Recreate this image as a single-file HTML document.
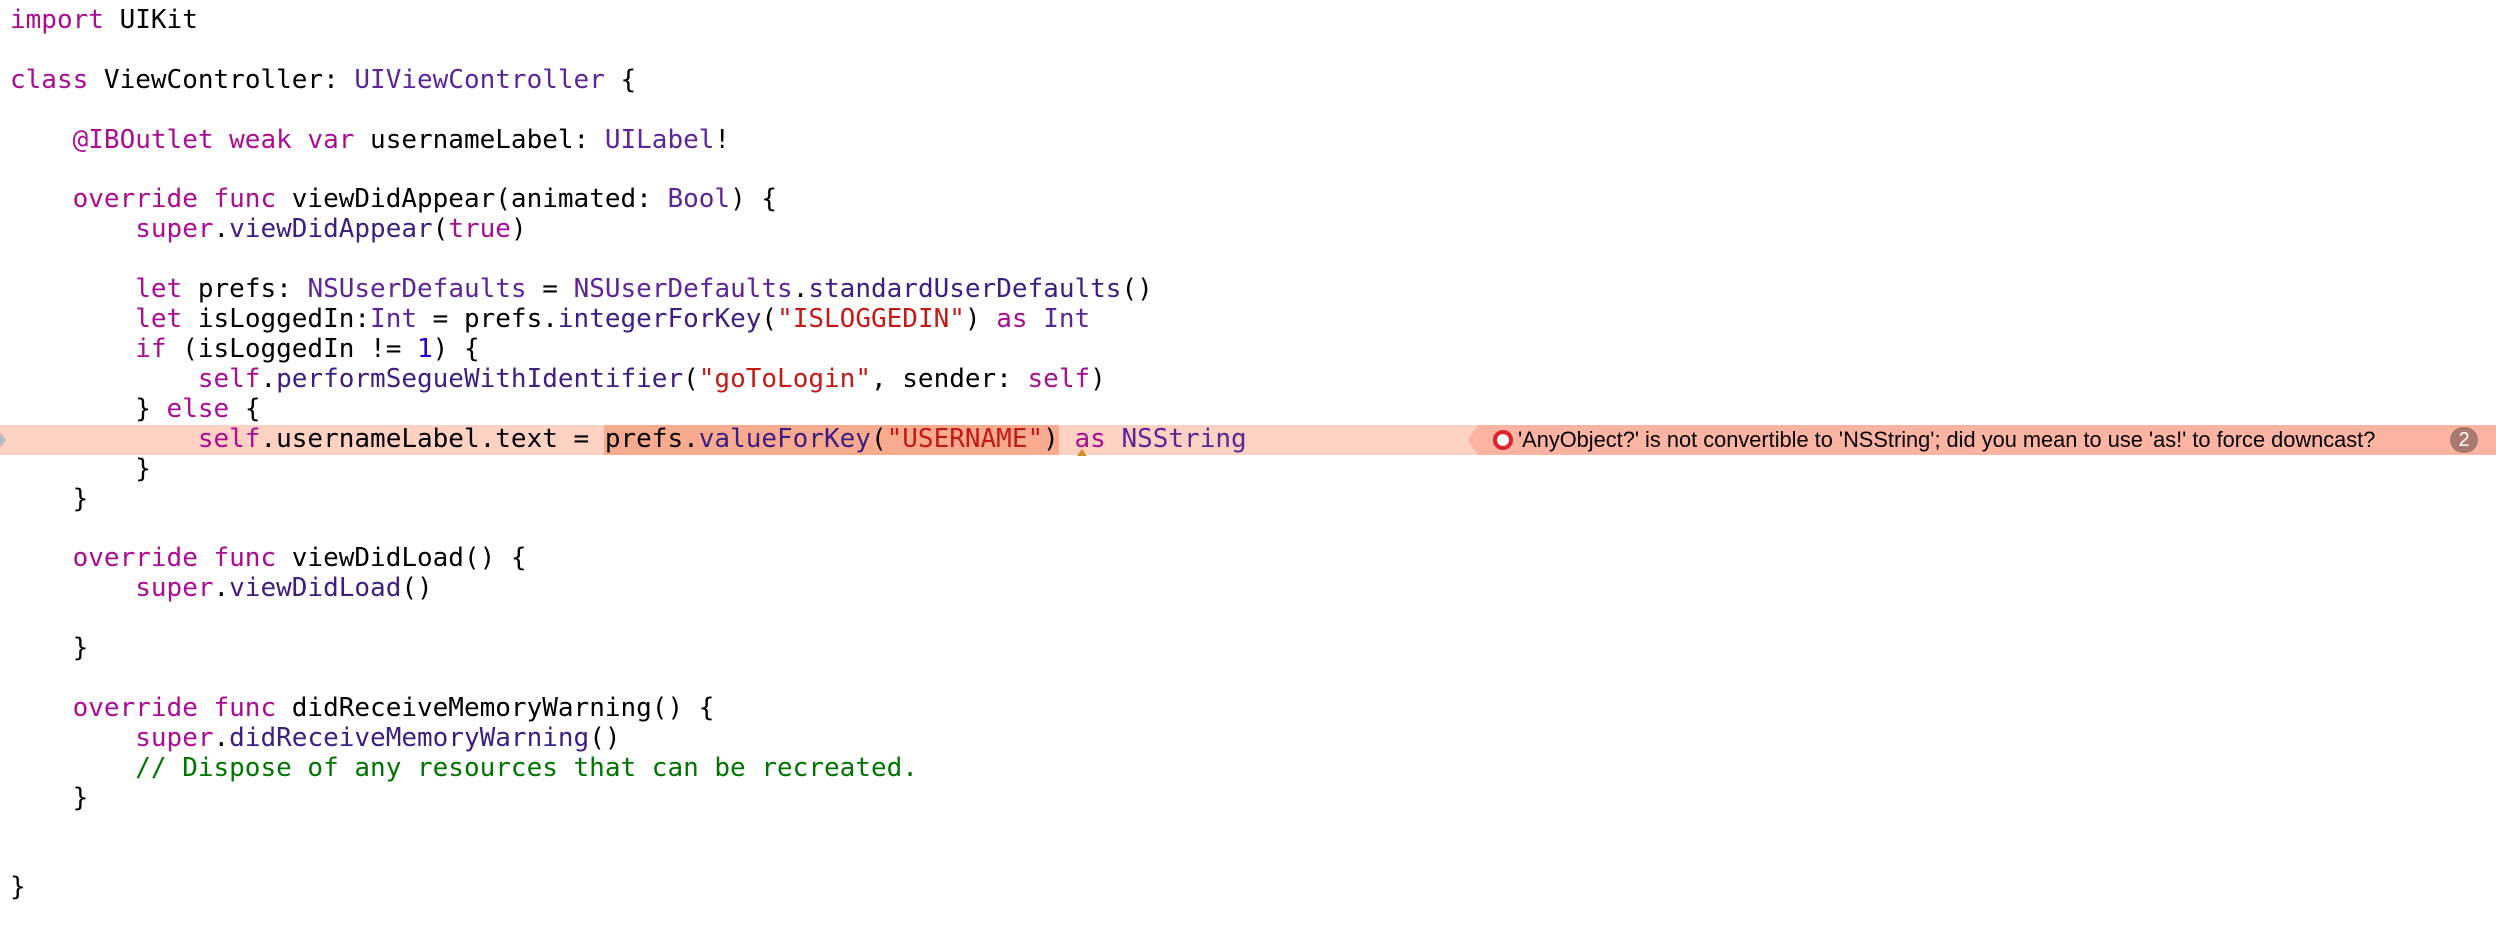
<!DOCTYPE html>
<html><head><meta charset="utf-8"><style>
html,body{margin:0;padding:0;background:#fff;width:2496px;height:940px;overflow:hidden;position:relative}
pre{position:absolute;left:10px;top:6px;margin:0;font-family:"DejaVu Sans Mono","Liberation Mono",monospace;font-size:26px;line-height:29.9px;color:#000;z-index:2}
.k{color:#aa0d91}.t{color:#5c2699}.m{color:#3d1e81}.s{color:#c41a16}.n{color:#1c00cf}.c{color:#007400}
#hl{position:absolute;left:0;top:425px;width:1480px;height:30px;background:#fdd2c3;z-index:1}
#hl2{position:absolute;left:604px;top:425px;width:455px;height:30px;background:#f9ab90;z-index:1}
#err{position:absolute;left:1478px;top:425px;width:1018px;height:30px;background:#fdb4a3;z-index:1}
#tip{position:absolute;left:1468px;top:425px;width:0;height:0;border-top:15px solid transparent;border-bottom:15px solid transparent;border-right:10px solid #fdb4a3;z-index:1}
#etext{position:absolute;left:1518px;top:425px;height:30px;line-height:30px;font-family:"Liberation Sans",sans-serif;font-size:21.8px;color:#000;z-index:3}
#icon{position:absolute;left:1493px;top:430px;width:12px;height:12px;border:4px solid #e0222a;border-radius:50%;background:#fff;z-index:3}
#badge{position:absolute;left:2450px;top:427px;width:28px;height:26px;border-radius:13px;background:#a9786e;color:#fff;font-family:"Liberation Sans",sans-serif;font-size:20px;line-height:26px;text-align:center;z-index:3}
#warn{position:absolute;left:1077px;top:449px;width:0;height:0;border-left:5px solid transparent;border-right:5px solid transparent;border-bottom:7px solid #c8902a;z-index:3}
#gut{position:absolute;left:0;top:432px;width:0;height:0;border-top:8px solid transparent;border-bottom:8px solid transparent;border-left:6px solid #b8b8c8;z-index:3}
</style></head><body>
<div id="hl"></div><div id="hl2"></div><div id="tip"></div><div id="err"></div>
<div id="gut"></div><div id="warn"></div>
<div id="icon"></div>
<div id="etext">'AnyObject?' is not convertible to 'NSString'; did you mean to use 'as!' to force downcast?</div>
<div id="badge">2</div>
<pre><span class="k">import</span> UIKit

<span class="k">class</span> ViewController: <span class="t">UIViewController</span> {

    <span class="k">@IBOutlet weak var</span> usernameLabel: <span class="t">UILabel</span>!

    <span class="k">override func</span> viewDidAppear(animated: <span class="t">Bool</span>) {
        <span class="k">super</span>.<span class="m">viewDidAppear</span>(<span class="k">true</span>)

        <span class="k">let</span> prefs: <span class="t">NSUserDefaults</span> = <span class="t">NSUserDefaults</span>.<span class="m">standardUserDefaults</span>()
        <span class="k">let</span> isLoggedIn:<span class="t">Int</span> = prefs.<span class="m">integerForKey</span>(<span class="s">"ISLOGGEDIN"</span>) <span class="k">as</span> <span class="t">Int</span>
        <span class="k">if</span> (isLoggedIn != <span class="n">1</span>) {
            <span class="k">self</span>.<span class="m">performSegueWithIdentifier</span>(<span class="s">"goToLogin"</span>, sender: <span class="k">self</span>)
        } <span class="k">else</span> {
            <span class="k">self</span>.usernameLabel.text = prefs.<span class="m">valueForKey</span>(<span class="s">"USERNAME"</span>) <span class="k">as</span> <span class="t">NSString</span>
        }
    }

    <span class="k">override func</span> viewDidLoad() {
        <span class="k">super</span>.<span class="m">viewDidLoad</span>()

    }

    <span class="k">override func</span> didReceiveMemoryWarning() {
        <span class="k">super</span>.<span class="m">didReceiveMemoryWarning</span>()
        <span class="c">// Dispose of any resources that can be recreated.</span>
    }


}</pre>
</body></html>
